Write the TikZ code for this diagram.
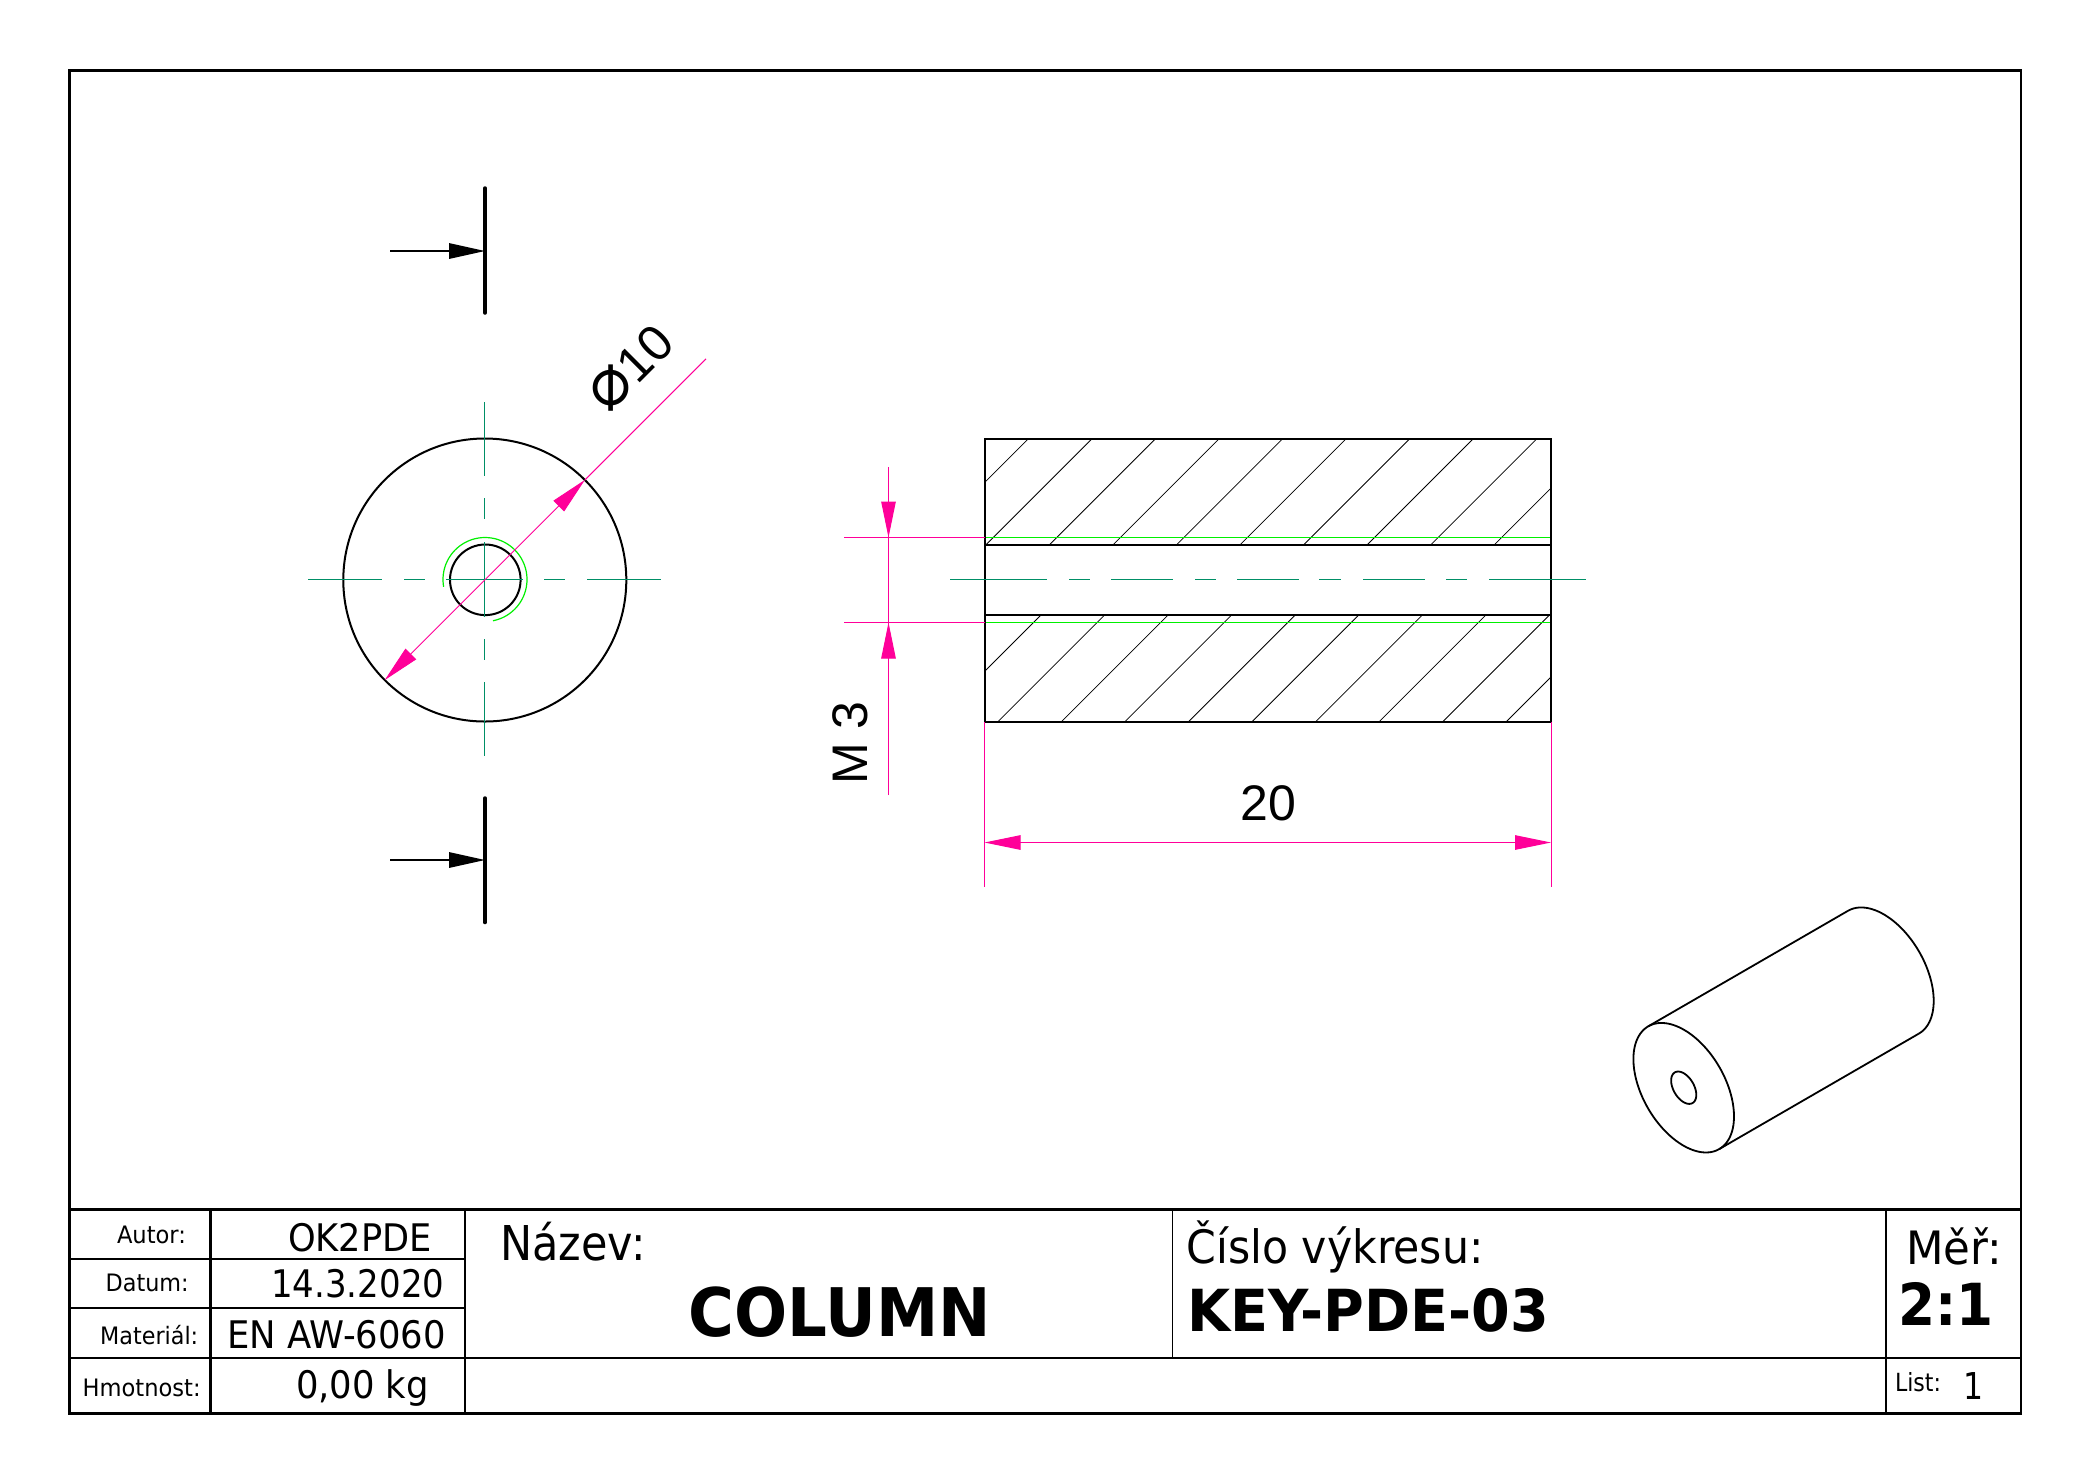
\documentclass[tikz,border=0pt]{standalone}
\usepackage{graphicx}
\usepackage{fontspec}
\setmainfont{DejaVu Sans}
\newfontfamily\dimfont{Liberation Sans}
\newfontfamily\symfont{DejaVu Sans}
\usetikzlibrary{arrows.meta}
\definecolor{dimpink}{HTML}{FF0099}
\definecolor{axisgreen}{HTML}{008F66}
\definecolor{threadgreen}{HTML}{00F000}
\newcommand{\tb}[6]{\node[titletext] (#1) at (#2,#3) {\resizebox{\dimexpr #4pt/2\relax}{\height}{\fontsize{#5pt}{#5pt}\selectfont #6}};}
\tikzset{
  frameline/.style={line width=1.05pt,black},
  partline/.style={line width=1pt,black},
  hatchline/.style={line width=0.4pt,black},
  axisline/.style={line width=0.65pt,axisgreen},
  threadline/.style={line width=0.6pt,threadgreen},
  dimline/.style={line width=0.5pt,dimpink},
  dimarrow/.style={dimline,{Triangle[length=18pt,width=7.25pt]}-{Triangle[length=18pt,width=7.25pt]}},
  cuttick/.style={line width=1.75pt,black,line cap=round},
  cutarrow/.style={line width=0.75pt,black,-{Triangle[length=18pt,width=7.75pt]}},
  titletext/.style={anchor=base west,inner sep=0pt,outer sep=0pt},
  dimtext/.style={inner sep=0pt,font=\dimfont\fontsize{25pt}{25pt}\selectfont}
}
\begin{document}
\begin{tikzpicture}[x=0.5pt,y=-0.5pt]
\useasboundingbox[fill=white] (0,0) rectangle (2087,1479);
% frame and title block
\draw[frameline] (69.5,70.5) rectangle (2021,1413.5);
\draw[frameline] (69.5,1209.5) -- (2021,1209.5);
\draw[frameline] (69.5,1358) -- (2021,1358);
\draw[frameline] (69.5,1259) -- (465,1259);
\draw[frameline] (69.5,1308) -- (465,1308);
\draw[frameline] (210.5,1209.5) -- (210.5,1413.5);
\draw[frameline] (465,1209.5) -- (465,1413.5);
\draw[line width=0.85pt] (1172.5,1209.5) -- (1172.5,1358);
\draw[frameline] (1886,1209.5) -- (1886,1413.5);
% title texts
\tb{autor}{117}{1243}{69}{12}{Autor:}
\tb{datum}{105.7}{1291.5}{83}{12}{Datum:}
\tb{material}{100.2}{1344}{98}{12}{Materiál:}
\tb{hmot}{82.7}{1396}{118}{12}{Hmotnost:}
\tb{okp}{288}{1251.5}{143.7}{19}{OK2PDE}
\tb{dat}{271.3}{1297.5}{173}{19}{14.3.2020}
\tb{mat}{227.2}{1348}{218.7}{19}{EN AW-6060}
\tb{mass}{296}{1398}{133}{19}{0,00 kg}
\tb{nazev}{500.5}{1260}{145}{24}{Název:}
\node[titletext] (column) at (688.7,1336) {\resizebox{151pt}{\height}{\fontsize{33.5pt}{33.5pt}\selectfont\bfseries COLUMN}};
\tb{cislo}{1186.5}{1263}{297}{23}{Číslo výkresu:}
\node[titletext] (keyno) at (1187.3,1331) {\resizebox{180.8pt}{\height}{\fontsize{29pt}{29pt}\selectfont\bfseries KEY-PDE-03}};
\tb{mer}{1906}{1264}{96}{23}{Měř:}
\node[titletext] (scale) at (1898.3,1325.5) {\resizebox{47.7pt}{\height}{\fontsize{29pt}{29pt}\selectfont\bfseries 2:1}};
\tb{list}{1895}{1391.5}{46}{12.5}{List:}
\tb{sheet}{1963.5}{1399}{20}{18.5}{1}
% section markers
\coordinate (t1) at (485,188); \coordinate (t2) at (485,313);
\coordinate (ta) at (390,251); \coordinate (tb) at (485,251);
\draw[cuttick] (t1) -- (t2);
\draw[cutarrow] (ta) -- (tb);
\coordinate (b1) at (485,798); \coordinate (b2) at (485,922.5);
\coordinate (ba) at (390,860); \coordinate (bb) at (485,860);
\draw[cuttick] (b1) -- (b2);
\draw[cutarrow] (ba) -- (bb);
% front view
\coordinate (c) at (484.8,580);
\draw[partline] (c) circle[radius=141.5];
\draw[partline] (485.3,579.8) circle[radius=35.3];
\draw[line width=0.6pt,threadgreen] plot[domain=-79:190,samples=80] ({485+42*cos(\x)},{579.5-42*sin(\x)});
\draw[axisline] (308,579.5) -- (381.5,579.5) (404,579.5) -- (425,579.5) (446,579.5) -- (522.5,579.5) (544,579.5) -- (565,579.5) (587,579.5) -- (661,579.5);
\draw[axisline] (484.5,402) -- (484.5,476) (484.5,498) -- (484.5,519) (484.5,542) -- (484.5,617) (484.5,639) -- (484.5,660) (484.5,682) -- (484.5,756);
\coordinate (d1) at (384.7,680.1); \coordinate (d2) at (584.9,479.9); \coordinate (d3) at (706,358.8);
\draw[dimline] (d2) -- (d3);
\draw[line width=0.45pt,dimpink,{Triangle[length=18.5pt,width=7.5pt]}-{Triangle[length=18.5pt,width=7.5pt]}] (d1) -- (d2);
\node[dimtext,rotate=45] (dia) at (631,368) {{\symfont\fontsize{34pt}{34pt}\selectfont ⌀}10};
% section view: hatching
\begin{scope}
\clip (984.5,439) rectangle (1551,545);
\foreach \k in {-1,...,8}
  \draw[hatchline] ({1530.7+\k*63.55-439},439) -- ({1530.7+\k*63.55-545},545);
\end{scope}
\begin{scope}
\clip (984.5,615) rectangle (1551,722);
\foreach \k in {0,...,9}
  \draw[hatchline] ({1656+\k*63.55-615},615) -- ({1656+\k*63.55-722},722);
\end{scope}
\draw[threadline] (984.5,537.5) -- (1551,537.5);
\draw[threadline] (984.5,622.5) -- (1551,622.5);
\draw[partline] (984.5,439) rectangle (1551,722);
\draw[partline] (984.5,545) -- (1551,545);
\draw[partline] (984.5,615) -- (1551,615);
\draw[axisline] (950,579.5) -- (1047,579.5) (1069,579.5) -- (1090,579.5) (1111,579.5) -- (1173,579.5) (1195,579.5) -- (1216,579.5) (1237,579.5) -- (1299,579.5) (1319,579.5) -- (1341,579.5) (1363,579.5) -- (1425,579.5) (1446,579.5) -- (1467,579.5) (1489,579.5) -- (1586,579.5);
% M 3 dimension
\coordinate (m1) at (844,537.5); \coordinate (m2) at (984.5,537.5);
\coordinate (m3) at (844,622.5); \coordinate (m4) at (984.5,622.5);
\draw[dimline] (m1) -- (m2);
\draw[dimline] (m3) -- (m4);
\coordinate (m5) at (888.5,467); \coordinate (m6) at (888.5,795);
\coordinate (m7) at (888.5,537.5); \coordinate (m8) at (888.5,622.5);
\draw[dimline] (m5) -- (m6);
\draw[dimline,-{Triangle[length=18pt,width=7.25pt]}] (m5) -- (m7);
\draw[dimline,-{Triangle[length=18pt,width=7.25pt]}] (m6) -- (m8);
\node[dimtext,rotate=90] (thread) at (850,743) {M 3};
% length dimension
\coordinate (l1) at (984.5,722); \coordinate (l2) at (984.5,887);
\coordinate (l3) at (1551,722); \coordinate (l4) at (1551,887);
\coordinate (l5) at (984.5,842.5); \coordinate (l6) at (1551,842.5);
\draw[dimline] (l1) -- (l2);
\draw[dimline] (l3) -- (l4);
\draw[dimarrow] (l5) -- (l6);
\node[dimtext] (len) at (1268,803) {20};
% isometric view
\draw[partline,line width=0.9pt] plot[domain=0:360,samples=121,smooth] ({1683.7+70.9*0.5*cos(\x)+41.2*0.866*sin(\x)},{1087.7+70.9*0.866*cos(\x)-41.2*0.5*sin(\x)}) -- cycle;
\draw[partline,line width=0.9pt] plot[domain=0:360,samples=61,smooth] ({1683.7+17.7*0.5*cos(\x)+10.3*0.866*sin(\x)},{1087.7+17.7*0.866*cos(\x)-10.3*0.5*sin(\x)}) -- cycle;
\draw[partline,line width=0.9pt] plot[domain=0:180,samples=61,smooth] ({1883.4+70.9*0.5*cos(\x)+41.2*0.866*sin(\x)},{972.2+70.9*0.866*cos(\x)-41.2*0.5*sin(\x)});
\coordinate (i1) at ({1683.7-35.45},{1087.7-61.4}); \coordinate (i2) at ({1883.4-35.45},{972.2-61.4});
\coordinate (i3) at ({1683.7+35.45},{1087.7+61.4}); \coordinate (i4) at ({1883.4+35.45},{972.2+61.4});
\draw[line width=0.9pt] (i1) -- (i2);
\draw[line width=0.9pt] (i3) -- (i4);
\end{tikzpicture}
\end{document}
